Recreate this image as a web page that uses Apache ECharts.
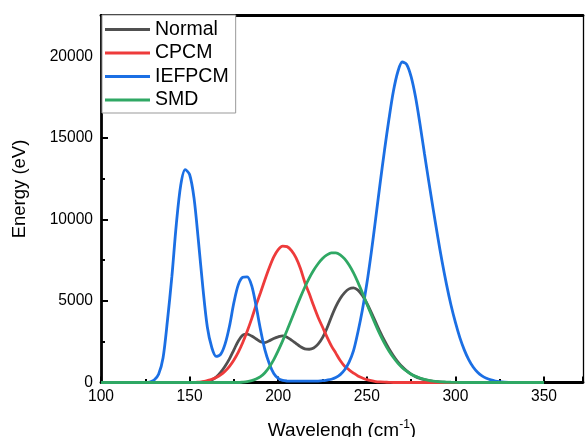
<!DOCTYPE html>
<html>
<head>
<meta charset="utf-8">
<script src="https://cdn.jsdelivr.net/npm/echarts@6/dist/echarts.min.js"></script>
<style>
html,body{margin:0;padding:0;background:#fff;}
#chart{width:585px;height:437px;}
</style>
</head>
<body>
<div id="chart"></div>
<script>
// Wavelength sample positions (cm-1)
var wavelength = [100,102.5,105,107.5,110,112.5,115,117.5,120,122.5,125,127.5,130,132.5,135,137.5,140,142.5,145,147.5,150,152.5,155,157.5,160,162.5,165,167.5,170,172.5,175,177.5,180,182.5,185,187.5,190,192.5,195,197.5,200,202.5,205,207.5,210,212.5,215,217.5,220,222.5,225,227.5,230,232.5,235,237.5,240,242.5,245,247.5,250,252.5,255,257.5,260,262.5,265,267.5,270,272.5,275,277.5,280,282.5,285,287.5,290,292.5,295,297.5,300,302.5,305,307.5,310,312.5,315,317.5,320,322.5,325,327.5,330,332.5,335,337.5,340,342.5,345,347.5,350];

var normal = [0,0,0,0,0,0,0,0,0,0,0,0,0,0,0,0,0,0,0,0,0,0,0,20,70,160,330,620,1000,1450,2000,2550,2900,2960,2850,2680,2500,2440,2560,2700,2800,2860,2780,2600,2400,2200,2060,2040,2120,2350,2750,3330,4020,4650,5150,5510,5740,5800,5660,5330,4860,4300,3700,3110,2560,2070,1640,1270,960,710,510,360,250,170,110,70,45,25,12,5,0,0,0,0,0,0,0,0,0,0,0,0,0,0,0,0,0,0,0,0,0];

var cpcm = [0,0,0,0,0,0,0,0,0,0,0,0,0,0,0,0,0,0,0,0,0,0,20,50,120,200,310,470,690,990,1380,1860,2450,3140,3900,4740,5500,6300,7050,7700,8150,8360,8330,8080,7650,7000,6150,5450,4700,4000,3400,2800,2250,1800,1350,1000,780,580,400,280,180,110,60,35,20,10,0,0,0,0,0,0,0,0,0,0,0,0,0,0,0,0,0,0,0,0,0,0,0,0,0,0,0,0,0,0,0,0,0,0,0];

var iefpcm = [0,0,0,0,0,0,0,0,0,0,0,30,150,500,1500,3800,6500,9700,12100,13050,12750,11300,8650,5800,3400,2150,1600,1720,2350,3450,4900,6000,6450,6480,5950,4700,3250,2000,1150,550,250,130,90,80,80,80,80,80,80,90,110,150,200,300,480,780,1250,1950,3100,4450,6050,7950,10050,12200,14250,16150,17850,19050,19650,19500,18750,17500,15850,14050,12300,10600,8950,7400,6000,4750,3680,2750,2000,1400,950,630,410,260,160,90,50,25,10,0,0,0,0,0,0,0,0];

var smd = [0,0,0,0,0,0,0,0,0,0,0,0,0,0,0,0,0,0,0,0,0,0,0,0,0,0,0,0,0,0,0,0,20,50,110,210,360,600,950,1400,1950,2550,3200,3880,4560,5220,5840,6400,6880,7280,7600,7820,7950,7950,7830,7580,7200,6720,6140,5500,4830,4170,3530,2930,2400,1930,1530,1190,910,690,510,375,275,195,135,90,60,40,25,15,8,0,0,0,0,0,0,0,0,0,0,0,0,0,0,0,0,0,0,0,0];

var seriesNames = ['Normal','CPCM','IEFPCM','SMD'];
var seriesColors = ['#505050','#ee3b3b','#1b6fe4','#2fa864'];
var seriesValues = [normal, cpcm, iefpcm, smd];

var xTicksMin = 100, xTicksMax = 372, xInterval = 50;
var yTicksMin = 0, yTicksMax = 22500, yInterval = 5000;

var FONT = "'Liberation Sans', Arial, sans-serif";

function pairs(vals){
  return wavelength.map(function(x,i){ return [x, vals[i]]; });
}

var chart = echarts.init(document.getElementById('chart'), null, {renderer:'canvas'});

var series = seriesNames.map(function(name, k){
  return {
    name: name,
    type: 'line',
    data: pairs(seriesValues[k]),
    showSymbol: false,
    symbol: 'none',
    smooth: 0.3,
    xAxisIndex: 0,
    yAxisIndex: 0,
    lineStyle: {color: seriesColors[k], width: 2.8},
    itemStyle: {color: seriesColors[k]},
    animation: false,
    z: 3
  };
});

chart.setOption({
  animation: false,
  backgroundColor: '#fff',
  grid: {left: 101, right: 2, top: 15.5, bottom: 54.5, containLabel: false, outerBoundsMode: 'none'},
  legend: {
    orient: 'vertical',
    left: 102, top: 15,
    data: seriesNames,
    icon: 'rect',
    itemWidth: 45, itemHeight: 3, itemGap: 3.5,
    padding: [4.5, 7, 3, 3],
    borderColor: '#999', borderWidth: 1, backgroundColor: '#fff',
    textStyle: {fontSize: 19.5, fontFamily: FONT, color: '#000'},
    z: 10
  },
  xAxis: [{
    type: 'value', min: xTicksMin, max: xTicksMax, interval: xInterval,
    position: 'bottom',
    axisLine: {show: true, onZero: false, lineStyle: {color: '#000', width: 2.8}},
    axisTick: {show: true, inside: true, length: 6, lineStyle: {color: '#000', width: 2}},
    minorTick: {show: true, splitNumber: 2, length: 3.5, lineStyle: {color: '#000', width: 2}},
    axisLabel: {show: true, margin: 6, fontSize: 15.6, fontFamily: FONT, color: '#000', showMaxLabel: false},
    splitLine: {show: false},
    name: '{a|Wavelengh (cm}{s|-1}{a|)}',
    nameLocation: 'middle', nameGap: 36,
    nameTextStyle: {
      rich: {
        a: {fontSize: 19, fontFamily: FONT, color: '#000', lineHeight: 22, verticalAlign: 'bottom'},
        s: {fontSize: 12, fontFamily: FONT, color: '#000', lineHeight: 22, verticalAlign: 'top', padding: [0,0,9,0]}
      }
    }
  },{
    type: 'value', min: xTicksMin, max: xTicksMax, interval: xInterval,
    position: 'top',
    axisLine: {show: true, onZero: false, lineStyle: {color: '#000', width: 2.8}},
    axisTick: {show: false}, axisLabel: {show: false}, splitLine: {show: false}
  }],
  yAxis: [{
    type: 'value', min: yTicksMin, max: yTicksMax, interval: yInterval,
    position: 'left',
    axisLine: {show: true, onZero: false, lineStyle: {color: '#000', width: 2.8}},
    axisTick: {show: true, inside: true, length: 7, lineStyle: {color: '#000', width: 2}},
    minorTick: {show: true, splitNumber: 2, length: 4, lineStyle: {color: '#000', width: 2}},
    axisLabel: {show: true, margin: 8, fontSize: 15.6, fontFamily: FONT, color: '#000', showMaxLabel: false,
      formatter: function(v){ return String(v); }},
    splitLine: {show: false}
  },{
    type: 'value', min: yTicksMin, max: yTicksMax, interval: yInterval,
    position: 'right',
    axisLine: {show: true, onZero: false, lineStyle: {color: '#000', width: 1.3}},
    axisTick: {show: false}, axisLabel: {show: false}, splitLine: {show: false}
  }],
  graphic: [{
    type: 'text',
    x: 20, y: 189,
    rotation: Math.PI / 2,
    style: {text: 'Energy (eV)', font: '18.5px ' + FONT, fill: '#000', align: 'center', verticalAlign: 'middle'}
  }],
  series: series
});
</script>
</body>
</html>
